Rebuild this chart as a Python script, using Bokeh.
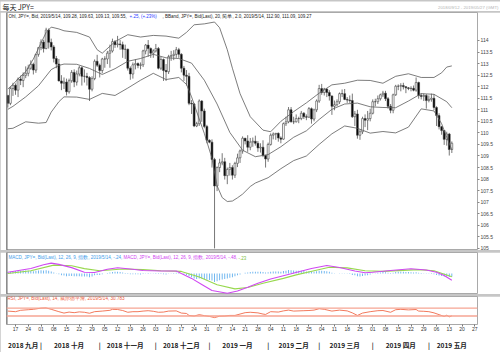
import numpy as np
import pandas as pd
from bokeh.plotting import figure
from bokeh.layouts import column
from bokeh.models import (Range1d, LinearAxis, FixedTicker, Label, Span,
                          ColumnDataSource, CustomJSTickFormatter)
from bokeh.embed import file_html
from bokeh.resources import INLINE

# ---------------- data (USD/JPY daily, trading-day index) ----------------
opens = [111.62,111.28,111.92,112.06,111.85,112.33,112.27,112.49,112.58,112.80,
112.97,112.72,113.40,113.69,113.93,113.65,114.45,113.92,113.72,113.22,
112.98,112.25,112.15,112.20,111.78,112.26,112.62,112.20,112.55,112.82,
112.45,112.45,112.40,111.89,112.35,113.10,112.93,112.70,113.20,113.20,
113.45,113.55,113.95,113.82,113.85,113.82,113.62,113.62,112.80,112.55,
112.95,113.00,112.92,112.95,113.55,113.80,113.65,113.45,113.55,113.65,
112.80,113.18,112.70,112.65,113.30,113.35,113.40,113.60,113.40,112.80,
112.50,112.45,111.28,111.25,110.30,110.40,111.38,110.95,110.28,109.68,
109.60,108.85,107.70,108.50,108.70,108.75,108.15,108.42,108.50,108.17,
108.68,108.92,109.22,109.77,109.65,109.38,109.60,109.64,109.55,109.35,
109.38,109.02,108.87,109.50,109.90,109.95,109.98,109.78,109.73,110.40,
110.48,111.00,110.48,110.48,110.62,110.62,110.85,110.70,110.68,111.05,
110.60,111.00,111.38,111.92,111.75,111.90,111.75,111.60,111.15,111.22,
111.35,111.70,111.70,111.45,111.42,111.40,110.70,110.82,109.90,110.05,
110.62,110.55,110.62,110.85,111.35,111.35,111.48,111.65,111.72,111.48,
111.15,110.98,111.65,112.02,112.02,112.05,112.00,111.95,111.92,111.93,
111.85,112.18,111.62,111.58,111.62,111.40,111.45,111.50,111.10,110.75,
110.27,110.10,109.72,109.95,109.28]
highs = [111.65,112.00,112.17,112.14,112.40,112.48,112.62,112.88,112.95,113.14,
113.04,113.42,113.70,114.05,114.03,114.55,114.52,114.08,113.80,113.33,
113.20,112.50,112.40,112.35,112.35,112.72,112.75,112.70,112.90,112.88,
112.75,112.60,112.45,112.45,113.18,113.38,113.00,113.25,113.32,113.55,
113.82,114.08,114.02,114.20,114.02,113.95,113.82,113.65,112.88,113.05,
113.18,113.05,113.05,113.60,113.85,114.02,113.70,113.62,113.85,113.72,
113.30,113.22,112.98,113.38,113.55,113.58,113.72,113.68,113.45,112.90,
112.72,112.60,111.42,111.30,110.48,111.45,111.42,111.05,110.35,109.72,
109.72,108.92,108.55,108.88,109.12,108.92,108.50,108.70,108.60,108.75,
109.10,109.28,109.85,109.78,109.90,109.78,109.80,109.88,109.65,109.55,
109.68,109.05,109.58,109.98,110.02,110.00,110.02,109.85,110.45,110.70,
111.12,111.12,110.70,110.80,110.70,110.95,110.90,110.80,111.12,111.10,
111.05,111.45,112.08,112.12,111.95,111.92,111.85,111.62,111.40,111.45,
111.75,111.88,111.90,111.55,111.62,111.70,110.95,111.00,110.15,110.70,
110.80,110.95,111.05,111.45,111.48,111.62,111.70,111.82,111.82,111.55,
111.25,111.70,112.08,112.10,112.15,112.17,112.02,111.98,112.02,112.05,
112.40,112.22,111.72,111.70,111.68,111.62,111.70,111.68,111.15,110.85,
110.30,110.12,110.05,110.00,109.63]
lows = [111.10,111.20,111.60,111.65,111.55,112.07,111.98,112.37,112.45,112.73,
112.53,112.60,113.30,113.58,113.48,113.62,113.65,113.57,113.05,112.80,
112.23,111.85,111.90,111.62,111.70,112.17,111.98,112.05,112.45,112.05,
112.18,112.05,111.38,111.80,112.28,112.85,112.40,112.58,112.82,112.98,
112.82,113.48,113.68,113.70,113.60,113.25,113.20,112.70,112.30,112.35,
112.75,112.80,112.75,112.85,113.40,113.30,113.25,113.25,113.48,112.75,
112.72,112.25,112.25,112.55,113.12,113.15,113.25,113.25,112.62,112.25,
112.05,111.20,110.82,110.25,110.25,110.30,110.48,110.20,109.55,109.55,
108.50,105.00,107.48,108.30,108.60,107.98,107.78,108.15,107.98,108.05,
108.52,108.70,109.10,109.50,109.18,109.25,109.40,109.45,109.18,109.15,
108.95,108.50,108.75,109.45,109.72,109.70,109.62,109.55,109.70,110.30,
110.42,110.45,110.38,110.45,110.42,110.55,110.60,110.55,110.65,110.40,
110.50,110.90,111.30,111.65,111.62,111.55,111.40,110.78,110.98,111.15,
111.25,111.55,111.42,111.30,111.30,110.65,110.30,109.75,109.70,109.95,
110.25,110.12,110.50,110.80,111.15,111.25,111.40,111.55,111.38,111.05,
110.85,110.85,111.60,111.85,111.80,111.88,111.72,111.85,111.80,111.80,
111.78,111.48,111.45,111.38,111.05,111.32,111.35,110.98,110.30,110.15,
109.92,109.48,109.45,109.02,109.13]
closes = [111.28,111.92,112.06,111.85,112.33,112.27,112.49,112.58,112.80,112.97,
112.72,113.40,113.69,113.93,113.65,114.45,113.92,113.72,113.22,112.98,
112.25,112.15,112.20,111.78,112.26,112.62,112.20,112.55,112.82,112.45,
112.45,112.40,111.89,112.35,113.10,112.93,112.70,113.20,113.20,113.45,
113.55,113.95,113.82,113.85,113.82,113.62,113.62,112.80,112.55,112.95,
113.00,112.92,112.95,113.55,113.80,113.65,113.45,113.55,113.65,112.80,
113.18,112.70,112.65,113.30,113.35,113.40,113.60,113.40,112.80,112.50,
112.45,111.28,111.25,110.30,110.40,111.38,110.95,110.28,109.68,109.60,
108.85,107.70,108.50,108.70,108.75,108.15,108.42,108.50,108.17,108.68,
108.92,109.22,109.77,109.65,109.38,109.60,109.64,109.55,109.35,109.38,
109.02,108.87,109.50,109.90,109.95,109.98,109.78,109.73,110.40,110.48,
111.00,110.48,110.48,110.62,110.62,110.85,110.70,110.68,111.05,110.60,
111.00,111.38,111.92,111.75,111.90,111.75,111.60,111.15,111.22,111.35,
111.70,111.70,111.45,111.42,111.40,110.70,110.82,109.90,110.05,110.62,
110.55,110.62,110.85,111.35,111.35,111.48,111.65,111.72,111.48,111.15,
110.98,111.65,112.02,112.02,112.05,112.00,111.95,111.92,111.93,111.85,
112.18,111.62,111.58,111.62,111.40,111.45,111.50,111.10,110.75,110.27,
110.10,109.72,109.95,109.28,109.55]

bb_up_day = [0,2,5,7,10,12,15,17,20,22,27,32,35,37,40,42,47,52,57,62,67,70,73,77,81,83,86,88,91,95,100,103,107,112,117,122,127,132,137,142,147,152,157,162,167,170,172,174]
bb_up = [111.90,112.10,112.45,112.65,113.20,113.66,114.35,114.58,114.50,114.42,114.35,114.15,113.60,113.45,113.75,113.95,114.25,114.15,114.22,114.19,114.10,114.35,114.68,114.72,114.80,114.55,113.60,112.80,111.70,110.70,110.12,110.05,110.50,110.92,111.30,111.72,112.08,112.15,112.28,112.27,112.15,112.45,112.56,112.40,112.40,112.60,112.85,112.90]
bb_mid_day = [0,2,7,12,17,20,22,27,32,37,42,47,52,57,62,67,72,77,82,87,92,97,102,107,112,117,122,127,132,137,142,147,152,157,162,167,172,174]
bb_mid = [111.02,111.15,111.56,112.04,112.74,112.92,112.98,112.97,112.79,112.53,112.78,113.10,113.22,113.40,113.25,113.22,113.02,112.28,111.25,110.02,109.25,108.97,109.06,109.40,109.81,110.09,110.58,111.02,111.25,111.29,111.13,111.10,111.09,111.38,111.70,111.67,111.35,111.09]
bb_lo_day = [0,2,7,12,15,17,20,22,27,32,37,42,47,52,57,62,67,70,72,75,77,80,82,84,86,88,90,92,95,97,102,107,112,117,122,127,132,137,142,147,152,157,162,167,170,172,174]
bb_lo = [110.18,110.20,110.48,110.42,110.45,110.90,111.35,111.56,111.55,111.45,111.71,111.62,111.94,112.28,112.58,112.31,112.40,112.10,111.56,110.60,109.98,108.90,107.71,107.20,107.03,107.05,107.19,107.35,107.68,107.83,108.06,108.45,108.80,109.00,109.50,109.96,110.30,110.20,109.99,110.06,110.00,110.25,111.04,110.95,110.40,109.81,109.27]

# MACD (12, 26, 9)
macd_hist = [0.09,0.12,0.15,0.17,0.19, 0.20,0.21,0.22,0.20,0.18, 0.16,0.20,0.22,0.24,0.22,
0.24,0.20,0.15,0.08,0.02, -0.06,-0.12,-0.15,-0.19,-0.18, -0.17,-0.20,-0.20,-0.19,-0.22,
-0.22,-0.22,-0.26,-0.22,-0.13, -0.10,-0.10,-0.05,0.00,0.04, 0.07,0.11,0.12,0.12,0.10,
0.07,0.04,-0.03,-0.06,-0.05, -0.05,-0.06,-0.07,-0.03,0.02, 0.03,0.02,0.02,0.03,-0.04,
-0.03,-0.06,-0.07,-0.02,0.01, 0.03,0.05,0.04,-0.02,-0.07, -0.10,-0.20,-0.26,-0.35,-0.40,
-0.35,-0.36,-0.40,-0.45,-0.47, -0.50,-0.60,-0.55,-0.48,-0.42, -0.40,-0.35,-0.30,-0.27,-0.20,
-0.13,-0.07,0.00,0.05,0.07, 0.10,0.12,0.13,0.13,0.13, 0.10,0.07,0.09,0.12,0.14,
0.15,0.14,0.13,0.17,0.20, 0.25,0.23,0.21,0.20,0.19, 0.19,0.17,0.15,0.16,0.12,
0.13,0.16,0.20,0.19,0.18, 0.16,0.12,0.05,0.02,0.00, 0.01,0.01,-0.01,-0.02,-0.03,
-0.10,-0.12,-0.20,-0.22,-0.18, -0.15,-0.12,-0.08,-0.02,0.02, 0.05,0.08,0.10,0.09,0.06,
0.03,0.06,0.10,0.12,0.13, 0.12,0.11,0.10,0.09,0.08, 0.09,0.05,0.03,0.02,-0.01,
-0.02,-0.03,-0.06,-0.10,-0.15, -0.18,-0.22,-0.21,-0.25,-0.24]
macd_day = [0,9,14,17,20,25,30,34,39,43,48,53,60,66,68,72,76,80,86,90,94,98,103,111,119,125,130,136,140,143,150,158,164,168,171,174]
macd_line = [0.09,0.36,0.62,0.74,0.65,0.42,0.09,0.07,0.30,0.41,0.32,0.21,0.18,0.18,0.00,-0.35,-0.78,-1.22,-1.41,-1.25,-0.98,-0.70,-0.39,-0.02,0.36,0.57,0.43,0.18,0.05,0.09,0.21,0.34,0.25,0.09,-0.14,-0.48]
sig_day = [0,9,18,25,30,36,45,53,60,68,75,82,89,94,100,108,113,120,126,133,140,147,155,161,167,174]
sig_line = [0.00,0.20,0.60,0.55,0.35,0.20,0.32,0.28,0.20,0.15,-0.25,-0.80,-1.10,-1.00,-0.70,-0.35,-0.10,0.20,0.45,0.40,0.20,0.15,0.22,0.28,0.20,-0.23]

# RSI (14)
rsi_day = [0,3,5,8,10,13,15,17,20,22,24,26,28,30,32,34,37,40,41,43,45,47,49,51,53,55,57,59,61,63,66,68,70,71,73,75,77,79,81,83,85,87,89,91,93,95,98,100,101,103,106,108,110,112,116,118,120,122,124,127,130,133,135,137,139,142,145,147,150,152,154,157,160,161,163,165,167,169,171,172,173,174]
rsi = [55,52,59,62,64,70,71,64,52,45,50,47,51,49,44,52,55,59,64,63,58,49,52,52,55,57,54,49,50,55,56,45,43,33,30,37,32,28,22,29,30,33,33,40,47,49,46,40,38,52,50,56,60,55,57,58,60,67,64,55,60,56,46,33,45,52,57,58,49,62,64,61,63,55,54,52,46,37,28,34,26,30.78]

price_ticks = [105,105.5,106,106.5,107,107.5,108,108.5,109,109.5,110,110.5,111,111.5,112,112.5,113,113.5,114]
month_names = ["一月","二月","三月","四月","五月","六月","七月","八月","九月","十月","十一月","十二月"]

# ---------------- layout helpers ----------------
axis_days = pd.bdate_range("2018-09-12", "2019-05-27")
day = list(range(len(closes)))
FONT = "Liberation Sans"
CJK = "Noto Sans CJK SC"
xr = Range1d(-0.53, 184.06)


def panel(h, yr, top_px, bot_px, bottom=0):
    f = figure(width=500, height=h, x_range=xr, y_range=yr, output_backend="svg",
               toolbar_location=None, min_border_left=6, min_border_right=23,
               min_border_top=0, min_border_bottom=bottom,
               x_axis_location=None, y_axis_location=None)
    f.xgrid.visible = False
    f.ygrid.visible = False
    f.outline_line_color = "#a9a9a9"
    f.border_fill_color = "white"
    f.background_fill_color = "white"
    f.extra_x_ranges = {"px": Range1d(6, 477)}
    f.extra_y_ranges = {"py": Range1d(bot_px, top_px)}
    f.add_layout(Span(location=xr.start, dimension="height", line_color="#707070", line_width=2))
    return f


def lab(f, x, y, text, color="#222222", size="5px", font=FONT, align="left",
        bg=None, yname="py", style="normal", yoff=0):
    f.add_layout(Label(x=x, y=y, x_range_name="px", y_range_name=yname, text=text,
                       text_color=color, text_font_size=size, text_font=font,
                       text_align=align, text_baseline="middle", background_fill_color=bg,
                       text_font_style=style, y_offset=yoff))

# ---------------- title strip ----------------
tf = figure(width=500, height=11, x_range=Range1d(0, 500), y_range=Range1d(11, 0),
            output_backend="svg", toolbar_location=None, min_border=0,
            x_axis_location=None, y_axis_location=None)
tf.xgrid.visible = False
tf.ygrid.visible = False
tf.outline_line_color = None
tf.add_layout(Label(x=2, y=5.2, text="每天 JPY=", text_font=CJK, text_font_size="7px",
                    text_baseline="middle", text_color="#222222"))
tf.add_layout(Label(x=498, y=6, text="2018/09/12 - 2019/05/27 (GMT)", text_font=FONT,
                    text_font_size="4.3px", text_align="right", text_baseline="middle",
                    text_color="#b4b4b4"))

# ---------------- main price panel ----------------
p = panel(238, Range1d(104.909, 115.212), 12, 250)
up = [c >= o for o, c in zip(opens, closes)]
src = ColumnDataSource(dict(
    x=day, o=opens, h=highs, l=lows, c=closes,
    top=[max(o, c) for o, c in zip(opens, closes)],
    bot=[min(o, c) for o, c in zip(opens, closes)],
    fill=["white" if u else "black" for u in up]))
p.segment(x0="x", y0="h", x1="x", y1="l", source=src, line_color="#555555", line_width=0.8)
p.vbar(x="x", width=0.72, top="top", bottom="bot", fill_color="fill",
       line_color="#444444", line_width=0.6, source=src)
for dx, dy in ((bb_up_day, bb_up), (bb_mid_day, bb_mid), (bb_lo_day, bb_lo)):
    p.line(dx, dy, line_color="#5c5c5c", line_width=0.8)

pax = LinearAxis(ticker=FixedTicker(ticks=price_ticks),
                 formatter=CustomJSTickFormatter(code="return String(tick)"),
                 major_label_text_font_size="5px", major_label_text_color="#444444",
                 major_label_text_font=FONT, major_tick_out=2, major_tick_in=0,
                 major_tick_line_color="#888888", minor_tick_line_color=None,
                 axis_line_color=None, major_label_standoff=1)
p.add_layout(pax, "right")

lab(p, 8, 15.5, "Ohl, JPY=, Bid, 2019/5/14, 109.28, 109.63, 109.13, 109.55, ", size="4.5px")
lab(p, 129, 15.5, "+.25, (+.23%)", color="#2b3cff", size="4.5px")
lab(p, 162, 15.5, ", BBand, JPY=, Bid(Last), 20, 简单, 2.0, 2019/5/14, 112.90, 111.09, 109.27", size="4.5px")
lab(p, 480, 20, "价格", color="#9a9a9a", size="4.5px", font=CJK)
lab(p, 480, 25.5, "/USD", color="#9a9a9a", size="4.5px")
for v, off in ((bb_up[-1], 0), (bb_mid[-1], 0), (closes[-1], 1), (bb_lo[-1], 4)):
    lab(p, 478, v, "%.2f" % v, color="white", bg="black", yname="default", yoff=off)

# ---------------- MACD panel ----------------
m = panel(42, Range1d(-1.5, 1.5), 252, 294)
m.vbar(x=day, top=macd_hist, bottom=0, width=0.35, fill_color="#63b0ee", line_color=None)
m.line(sig_day, sig_line, line_color="#98d84e", line_width=1.1)
m.line(macd_day, macd_line, line_color="#d048f2", line_width=1.1)
lab(m, 8, 257.3, "MACD, JPY=, Bid(Last), 12, 26, 9, 指数, 2019/5/14, -.24, ", color="#3d9be9", size="4.5px")
lab(m, 123, 257.3, "MACD, JPY=, Bid(Last), 12, 26, 9, 指数, 2019/5/14, -.48, ", color="#d040f0", size="4.5px")
lab(m, 238, 257.3, "-.23", color="#7cc040", size="4.5px")
lab(m, 480, 262, "值", color="#9a9a9a", size="4.5px", font=CJK)
lab(m, 478, 272, "-.23", color="black", bg="#7cc840")
lab(m, 478, 277, "-.24", color="black", bg="#3d9be9")
lab(m, 478, 282, "-.48", color="black", bg="#cc44ee")
lab(m, 480, 289, "百分比", color="#b0b0b0", size="4.3px", font=CJK)

# ---------------- RSI panel ----------------
r = panel(56, Range1d(-13, 129), 296, 328, bottom=24)
r.add_layout(Span(location=70, dimension="width", line_color="#f6a593", line_width=1.4))
r.add_layout(Span(location=30, dimension="width", line_color="#f6a593", line_width=1.4))
r.line(rsi_day, rsi, line_color="#f06a4a", line_width=0.9)
lab(r, 7, 298.5, "RSI, JPY=, Bid(Last), 14, 威尔德平滑, 2019/5/14, 30.783", color="#f05a3a", size="4.6px")
lab(r, 480, 302.5, "值", color="#9a9a9a", size="4.5px", font=CJK)
lab(r, 480, 308.5, "/USD", color="#9a9a9a", size="4.5px")
lab(r, 478, 318.5, "30.783", color="white", bg="#e0401a")
lab(r, 480, 325, "百分比", color="#b0b0b0", size="4.3px", font=CJK)

# date axis (Mondays) and month axis
mondays = [i for i, d in enumerate(axis_days) if d.weekday() == 0]
day_labels = {i: "%02d" % axis_days[i].day for i in mondays}
ax1 = LinearAxis(ticker=FixedTicker(ticks=mondays), major_label_overrides=day_labels,
                 major_label_text_font_size="5px", major_label_text_color="#333333",
                 major_label_text_font=FONT, major_tick_out=2, major_tick_in=0,
                 major_tick_line_color="#777777", minor_tick_line_color=None,
                 axis_line_color=None, major_label_standoff=0)
r.add_layout(ax1, "below")

per = axis_days.to_period("M")
starts = [0] + [i for i in range(1, len(axis_days)) if per[i] != per[i - 1]]
ends = starts[1:] + [len(axis_days)]
month_ticks, month_labels = [], {}
for k, (s, e) in enumerate(zip(starts, ends)):
    c = int(round((s + e - 1) / 2))
    month_ticks.append(c)
    month_labels[c] = "%d %s" % (per[s].year, month_names[per[s].month - 1])
    if k > 0:
        month_ticks.append(s)
        month_labels[s] = "|"
ax2 = LinearAxis(ticker=FixedTicker(ticks=sorted(month_ticks)), major_label_overrides=month_labels,
                 major_label_text_font_size="6.6px", major_label_text_font_style="bold",
                 major_label_text_color="#222222", major_label_text_font=CJK,
                 major_tick_line_color=None, minor_tick_line_color=None,
                 axis_line_color=None, major_label_standoff=0)
r.add_layout(ax2, "below")

BG = {"background-color": "#c6c6c6"}
panels = column(p, m, r, spacing=2, styles=BG)
layout = column(tf, panels, spacing=1, styles=BG)
open("out.html", "w").write(file_html(layout, INLINE))
